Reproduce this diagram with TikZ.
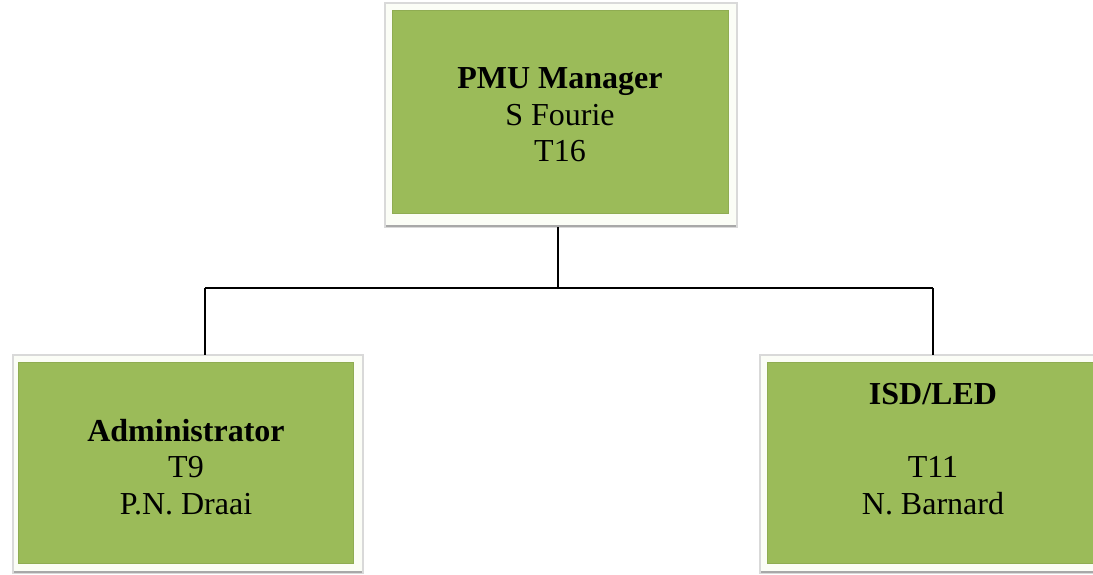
\documentclass[tikz,border=0pt]{standalone}
\usepackage{fontspec}
\setmainfont{Liberation Serif}
\definecolor{boxgreen}{HTML}{9BBB59}
\definecolor{framecol}{HTML}{FBFDF6}
\definecolor{shadowcol}{HTML}{A8A8A8}
\newcommand{\hd}[1]{\textbf{#1}}
\begin{document}
\begin{tikzpicture}[x=0.75pt,y=-0.75pt,
  frame/.style={draw=gray!30,line width=0.8pt,fill=framecol,inner sep=0pt,outer sep=0pt},
  greenbox/.style={fill=boxgreen,draw=boxgreen!92!black,line width=0.4pt},
  lbl/.style={align=center,font=\fontsize{24pt}{27.4pt}\selectfont,inner sep=0pt},
  conn/.style={draw=black,line width=1.5pt}]
\useasboundingbox (0,0) rectangle (1093,575);
\clip (0,0) rectangle (1093,575);
% top box
\node[frame,minimum width=352*0.75pt,minimum height=224*0.75pt] (top) at (561,115) {};
\draw[shadowcol,line width=1.5pt] (386,226) -- (736,226);
\path[greenbox] (392,10) rectangle (728,213);
\node[lbl] (toptext) at (560,115) {\hd{PMU Manager}\\S Fourie\\T16};
% left box
\node[frame,minimum width=350*0.75pt,minimum height=218*0.75pt] (left) at (188,464) {};
\draw[shadowcol,line width=1.5pt] (14,572) -- (362,572);
\path[greenbox] (18,362) rectangle (353,563);
\node[lbl] (lefttext) at (186,467) {\hd{Administrator}\\T9\\P.N. Draai};
% right box
\node[frame,minimum width=347*0.75pt,minimum height=218*0.75pt] (right) at (933.5,464) {};
\draw[shadowcol,line width=1.5pt] (761,572) -- (1106,572);
\path[greenbox] (767,362) rectangle (1099,563);
\node[lbl] (righttext) at (933,449) {\hd{ISD/LED}\\[27.4pt]T11\\N. Barnard};
% connectors
\coordinate (busL) at (205,288);
\coordinate (busR) at (933,288);
\draw[conn] ([xshift=-2.25pt]top.south) |- (busL);
\draw[conn] ([xshift=-2.25pt]top.south |- busL) -- (busR);
\draw[conn] (busL) -- (busL |- left.north);
\draw[conn] (busR) -- (busR |- right.north);
\end{tikzpicture}
\end{document}
